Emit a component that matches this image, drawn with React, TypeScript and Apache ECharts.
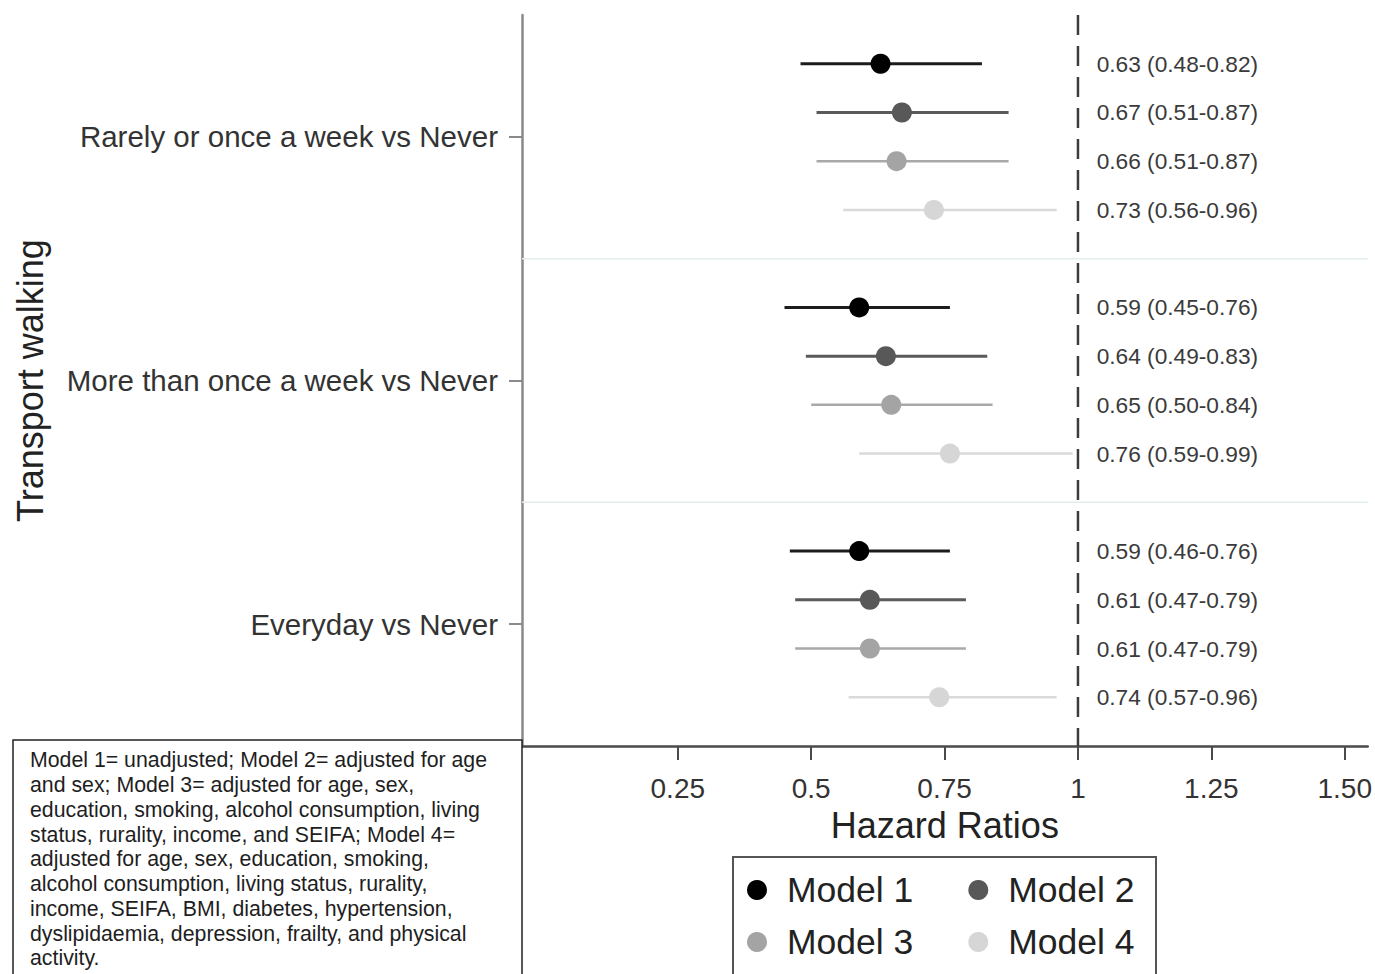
import React, { useEffect, useRef } from "react";
import * as echarts from "echarts";

const categories = [
  "Rarely or once a week vs Never",
  "More than once a week vs Never",
  "Everyday vs Never",
];
const modelNames = ["Model 1", "Model 2", "Model 3", "Model 4"];
const hr = [
  [0.63, 0.59, 0.59],
  [0.67, 0.64, 0.61],
  [0.66, 0.65, 0.61],
  [0.73, 0.76, 0.74],
];
const lower = [
  [0.48, 0.45, 0.46],
  [0.51, 0.49, 0.47],
  [0.51, 0.5, 0.47],
  [0.56, 0.59, 0.57],
];
const upper = [
  [0.82, 0.76, 0.76],
  [0.87, 0.83, 0.79],
  [0.87, 0.84, 0.79],
  [0.96, 0.99, 0.96],
];
const tickValues = [0.25, 0.5, 0.75, 1, 1.25, 1.5];
const tickLabels = ["0.25", "0.5", "0.75", "1", "1.25", "1.50"];
const referenceValue = 1;
const separators = [1, 2];

const noteLines = [
  "Model 1= unadjusted; Model 2= adjusted for age",
  "and sex; Model 3= adjusted for age, sex,",
  "education, smoking, alcohol consumption, living",
  "status, rurality, income, and SEIFA; Model 4=",
  "adjusted for age, sex, education, smoking,",
  "alcohol consumption, living status, rurality,",
  "income, SEIFA, BMI, diabetes, hypertension,",
  "dyslipidaemia, depression, frailty, and physical",
  "activity.",
];

const FONT = "'Liberation Sans', Arial, Helvetica, sans-serif";
const dotColors = ["#000000", "#585858", "#a4a4a4", "#d6d6d6"];
const lineColors = ["#1c1c1c", "#5a5a5a", "#a9a9a9", "#dadada"];
const lineWidths = [3, 3, 2.5, 2.5];
const offsets = [-0.3, -0.1, 0.1, 0.3];
const labelX = 1.035;

export default function App() {
  const ref = useRef<HTMLDivElement>(null);
  useEffect(() => {
    if (!ref.current) return;
    const chart = echarts.init(ref.current, undefined, { renderer: "svg" });

    const modelSeries = modelNames.map((name, m) => ({
      type: "custom",
      name,
      xAxisIndex: 0,
      yAxisIndex: 1,
      itemStyle: { color: dotColors[m] },
      encode: { x: [1, 2, 3], y: 0 },
      data: categories.map((_, c) => [c, hr[m][c], lower[m][c], upper[m][c]]),
      z: 5,
      renderItem: (params: any, api: any) => {
        const c = api.value(0);
        const v = api.value(1);
        const lo = api.value(2);
        const hi = api.value(3);
        const y = c + 0.5 + offsets[m];
        const pLo = api.coord([lo, y]);
        const pHi = api.coord([hi, y]);
        const pc = api.coord([v, y]);
        const pt = api.coord([labelX, y]);
        return {
          type: "group",
          children: [
            {
              type: "line",
              shape: { x1: pLo[0], y1: pLo[1], x2: pHi[0], y2: pHi[1] },
              style: { stroke: lineColors[m], lineWidth: lineWidths[m] },
            },
            {
              type: "circle",
              shape: { cx: pc[0], cy: pc[1], r: 10 },
              style: { fill: dotColors[m] },
            },
            {
              type: "text",
              x: pt[0],
              y: pt[1],
              style: {
                text: `${v.toFixed(2)} (${lo.toFixed(2)}-${hi.toFixed(2)})`,
                fontSize: 22.7,
                fontFamily: FONT,
                fill: "#3a3a3a",
                textAlign: "left",
                textVerticalAlign: "middle",
                verticalAlign: "middle",
              },
            },
          ],
        };
      },
    }));

    const refSeries = {
      type: "custom",
      name: "ref",
      xAxisIndex: 0,
      yAxisIndex: 1,
      silent: true,
      z: 1,
      data: [
        [0, referenceValue],
        ...separators.map((s) => [1, s]),
      ],
      encode: { x: -1, y: -1 },
      renderItem: (params: any, api: any) => {
        const kind = api.value(0);
        const val = api.value(1);
        const cs = params.coordSys;
        if (kind === 0) {
          const p = api.coord([val, 0]);
          return {
            type: "line",
            shape: { x1: p[0], y1: cs.y, x2: p[0], y2: cs.y + cs.height },
            style: { stroke: "#3c3c3c", lineWidth: 2.5, lineDash: [20, 11] },
          };
        }
        const p = api.coord([0, val]);
        return {
          type: "line",
          shape: { x1: cs.x, y1: p[1], x2: cs.x + cs.width, y2: p[1] },
          style: { stroke: "#e2eeee", lineWidth: 1.5 },
        };
      },
    };

    const legendCommon = {
      orient: "horizontal",
      icon: "circle",
      itemWidth: 20,
      itemHeight: 20,
      itemGap: 55,
      padding: 0,
      selectedMode: false,
      textStyle: {
        fontSize: 35.5,
        fontFamily: FONT,
        color: "#222",
        padding: [0, 0, 0, 15],
      },
    };

    chart.setOption({
      animation: false,
      backgroundColor: "#ffffff",
      textStyle: { fontFamily: FONT },
      grid: { left: 522, right: 7, top: 15, bottom: 228, containLabel: false },
      xAxis: {
        type: "value",
        position: "bottom",
        min: -0.042,
        max: 1.543,
        name: "Hazard Ratios",
        nameLocation: "middle",
        nameGap: 61,
        nameTextStyle: { fontSize: 36, color: "#222", fontFamily: FONT },
        axisLine: { show: true, onZero: false, lineStyle: { color: "#4a4a4a", width: 2.5 } },
        axisTick: {
          show: true,
          length: 14,
          lineStyle: { color: "#4a4a4a", width: 2 },
          customValues: tickValues,
        },
        axisLabel: {
          fontSize: 28,
          color: "#333",
          fontFamily: FONT,
          margin: 28,
          customValues: tickValues,
          formatter: (v: number) => {
            const i = tickValues.findIndex((t) => Math.abs(t - v) < 1e-6);
            return i >= 0 ? tickLabels[i] : "";
          },
        },
        splitLine: { show: false },
      },
      yAxis: [
        {
          type: "category",
          data: categories,
          inverse: true,
          boundaryGap: true,
          position: "left",
          name: "Transport walking",
          nameLocation: "middle",
          nameGap: 474,
          nameTextStyle: { fontSize: 36, color: "#222", fontFamily: FONT },
          axisLine: { show: true, onZero: false, lineStyle: { color: "#8a8a8a", width: 2.5 } },
          axisTick: {
            show: true,
            alignWithLabel: true,
            length: 13,
            lineStyle: { color: "#8a8a8a", width: 2 },
          },
          axisLabel: { fontSize: 29.5, color: "#333", fontFamily: FONT, margin: 24 },
          splitLine: { show: false },
        },
        {
          type: "value",
          min: 0,
          max: 3,
          inverse: true,
          show: false,
        },
      ],
      legend: [
        { ...legendCommon, data: ["Model 1", "Model 2"], left: 747, top: 872 },
        { ...legendCommon, data: ["Model 3", "Model 4"], left: 747, top: 924 },
      ],
      graphic: [
        {
          type: "rect",
          shape: { x: 13, y: 740, width: 509, height: 260 },
          style: { fill: "#fff", stroke: "#222", lineWidth: 1.5 },
          z: 10,
        },
        {
          type: "text",
          x: 30,
          y: 748,
          z: 11,
          style: {
            text: noteLines.join("\n"),
            fontSize: 21.3,
            lineHeight: 24.75,
            fontFamily: FONT,
            fill: "#1e1e1e",
          },
        },
        {
          type: "rect",
          shape: { x: 733, y: 857, width: 423, height: 140 },
          style: { fill: "transparent", stroke: "#555", lineWidth: 2 },
          z: 10,
        },
      ],
      series: [refSeries, ...modelSeries],
    });
    return () => chart.dispose();
  }, []);
  return (
    <div
      ref={ref}
      style={{ position: "fixed", left: 0, top: 0, width: 1375, height: 974, background: "#fff" }}
    />
  );
}
